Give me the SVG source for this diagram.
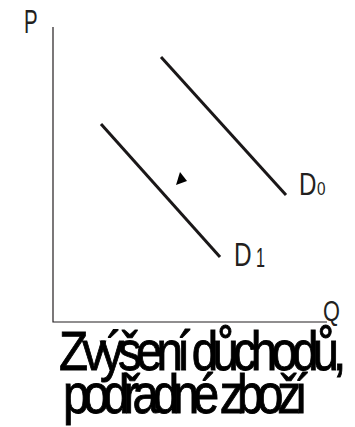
<svg xmlns="http://www.w3.org/2000/svg" width="355" height="427" viewBox="0 0 355 427">
  <style>
    .axis { stroke: #231f20; stroke-width: 1.2; fill: none; }
    .curve { stroke: #1a1718; stroke-width: 3; fill: none; }
    .lbl { font-family: "Liberation Sans", Arial, sans-serif; fill: #231f20; }
    .title { font-family: "Liberation Sans", Arial, sans-serif; fill: #000; stroke: #000; stroke-width: 0.9; font-size: 56px; }
  </style>
  <rect width="355" height="427" fill="#fff"/>
  <g id="axes">
    <polyline class="axis" points="53,27 53,322 327,322"/>
    <text class="lbl" font-size="33" transform="translate(24,33) scale(0.62,1)">P</text>
    <text class="lbl" font-size="29" transform="translate(323,321) scale(0.75,1)">Q</text>
  </g>
  <g id="connectors">
    <line id="D0-line" class="curve" x1="161" y1="57" x2="286" y2="195"/>
    <line id="D1-line" class="curve" x1="101" y1="124" x2="220" y2="257"/>
    <polygon id="shift-arrow" points="180,172 187,181 176,185" fill="#000"/>
  </g>
  <g id="D0">
    <text class="lbl" font-size="31" transform="translate(299,195) scale(0.78,1)">D</text>
    <text class="lbl" font-size="18" transform="translate(317,195) scale(0.85,1)">0</text>
  </g>
  <g id="D1">
    <text class="lbl" font-size="33" transform="translate(234,266) scale(0.74,1)">D</text>
    <text class="lbl" font-size="27" transform="translate(256,267) scale(0.6,1)">1</text>
  </g>
  <g id="caption">
    <text class="title" transform="translate(59,370) scale(0.85,1)" textLength="338" lengthAdjust="spacing">Zvýšení důchodů,</text>
    <text class="title" transform="translate(63,413) scale(0.85,1)" textLength="288" lengthAdjust="spacing">podřadné zboží</text>
  </g>
</svg>
